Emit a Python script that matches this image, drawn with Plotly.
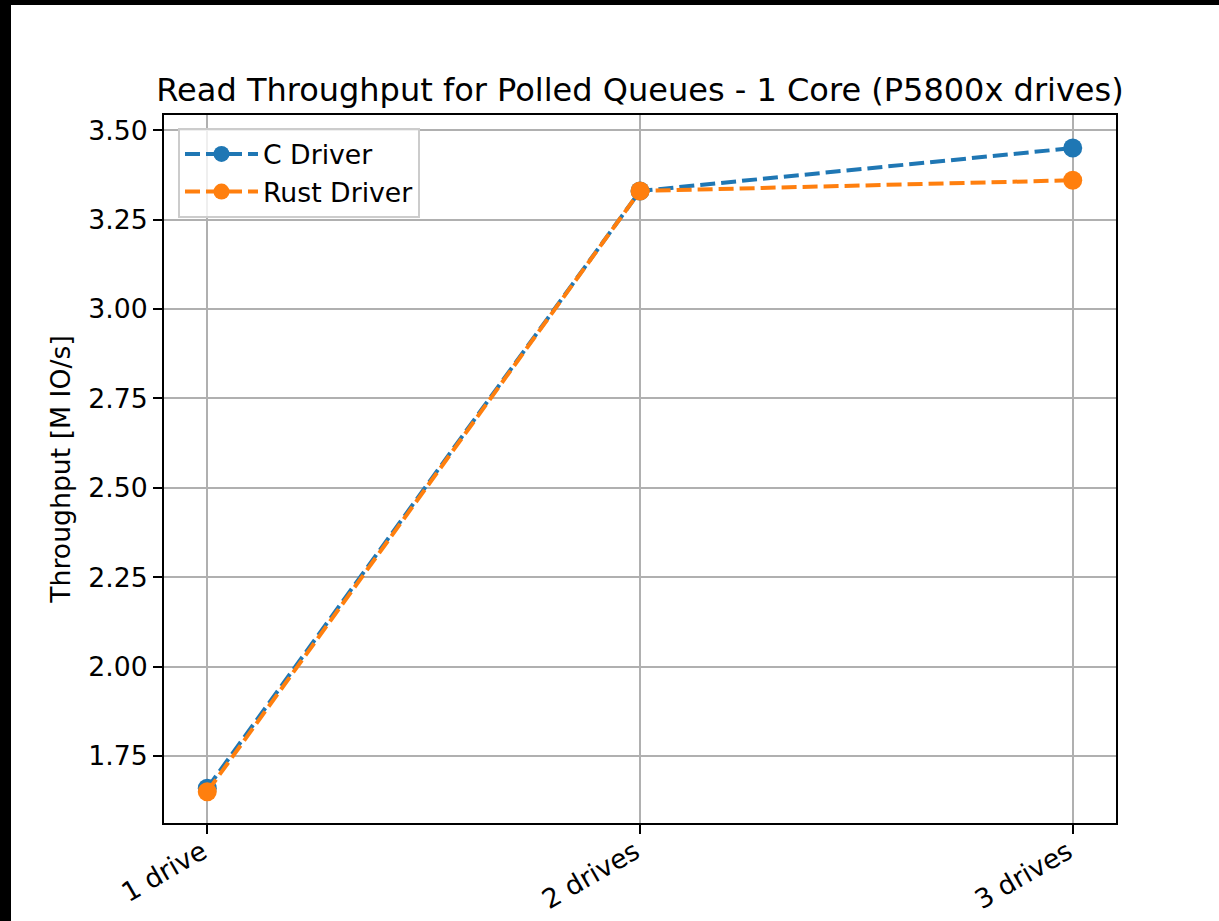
import plotly.graph_objects as go

# data
drives = ["1 drive", "2 drives", "3 drives"]
c_driver = [1.66, 3.33, 3.45]
rust_driver = [1.65, 3.33, 3.36]

BLUE = "#1f77b4"
ORANGE = "#ff7f0e"
FONT = "DejaVu Sans, sans-serif"

fig = go.Figure()

for name, vals, color in [("C Driver", c_driver, BLUE), ("Rust Driver", rust_driver, ORANGE)]:
    fig.add_trace(
        go.Scatter(
            x=list(range(len(drives))),
            y=vals,
            name=name,
            mode="lines+markers",
            line=dict(color=color, width=4, dash="15px,6px"),
            marker=dict(color=color, size=19),
        )
    )

axis_common = dict(
    showgrid=True,
    gridcolor="#b0b0b0",
    gridwidth=2,
    showline=True,
    linecolor="black",
    linewidth=2,
    mirror=True,
    ticks="outside",
    ticklen=9,
    tickwidth=2,
    tickcolor="black",
    zeroline=False,
    tickfont=dict(family=FONT, size=26.7, color="black"),
)

fig.update_xaxes(
    **axis_common,
    range=[-0.1, 2.1],
    tickmode="array",
    tickvals=list(range(len(drives))),
    ticktext=drives,
    tickangle=-30,
    ticklabelstandoff=-8,
    ticklabelshift=-5,
)
fig.update_yaxes(
    **axis_common,
    range=[1.5625, 3.5425],
    tickmode="array",
    tickvals=[1.75, 2.0, 2.25, 2.5, 2.75, 3.0, 3.25, 3.5],
    ticktext=["1.75", "2.00", "2.25", "2.50", "2.75", "3.00", "3.25", "3.50"],
    title=dict(
        text="Throughput [M IO/s]",
        font=dict(family=FONT, size=26.7, color="black"),
        standoff=10,
    ),
)

# page body gets a black 5px top / 11px left border like the reference image
fig.update_layout(
    width=1208,
    height=916,
    plot_bgcolor="white",
    paper_bgcolor="white",
    margin=dict(l=153, r=103, t=110, b=98, autoexpand=False),
    title=dict(
        text="Read Throughput for Polled Queues - 1 Core (P5800x drives)",
        font=dict(family=FONT, size=32, color="black"),
        x=(153 + 476) / 1208,
        xanchor="center",
        y=1 - 96 / 916,
        yanchor="bottom",
    ),
    legend=dict(
        x=0.0147,
        y=0.9816,
        xanchor="left",
        yanchor="top",
        bgcolor="rgba(255,255,255,0.8)",
        bordercolor="#cccccc",
        borderwidth=2,
        font=dict(family=FONT, size=26.7, color="black"),
        itemwidth=73,
        tracegroupgap=0,
    ),
    showlegend=True,
)

fig.write_html(
    "out.html",
    post_script="document.body.style.margin='5px 0 0 11px';"
    "document.body.style.background='black';"
    "document.body.style.overflow='hidden';",
)
